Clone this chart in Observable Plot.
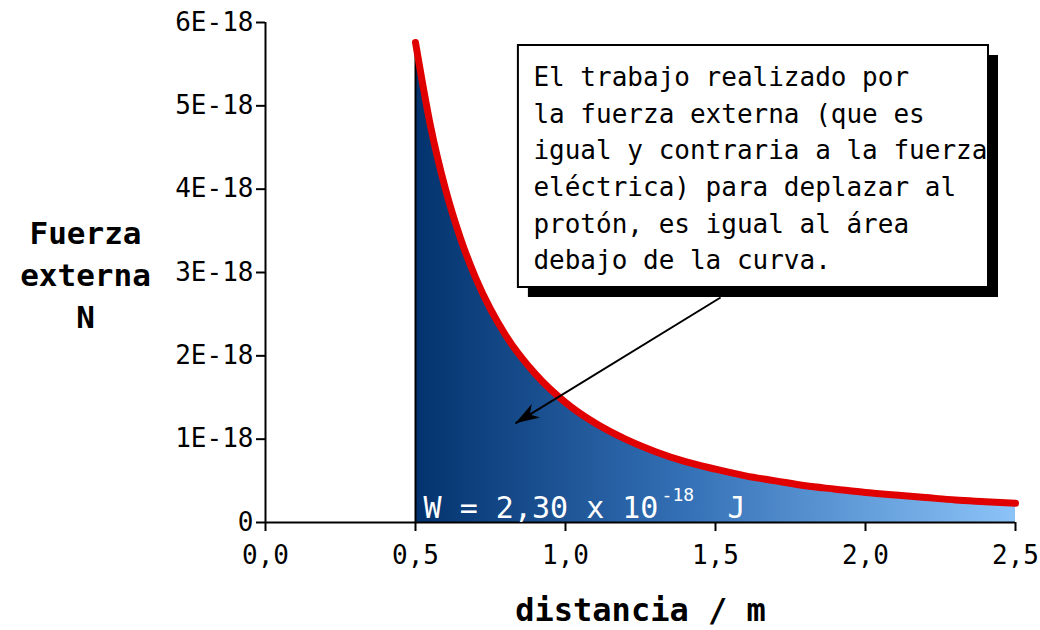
<!DOCTYPE html>
<html>
<head>
<meta charset="utf-8">
<script src="https://cdn.jsdelivr.net/npm/d3@7"></script>
<script src="https://cdn.jsdelivr.net/npm/@observablehq/plot@0.6"></script>
<style>
  html, body { margin: 0; padding: 0; background: #fff; }
  #chart svg { display: block; }
</style>
</head>
<body>
<div id="chart"></div>
<script>
// distance (m) and external force (in units of 1E-18 N)
const distancia = [0.5, 0.55, 0.6, 0.65, 0.7, 0.75, 0.8, 0.9, 1.0, 1.1, 1.2, 1.3, 1.4, 1.5, 1.6, 1.7, 1.8, 1.9, 2.0, 2.1, 2.2, 2.3, 2.4, 2.5];
const fuerza    = [5.76, 4.76, 4.00, 3.41, 2.94, 2.56, 2.25, 1.78, 1.44, 1.19, 1.00, 0.85, 0.73, 0.64, 0.56, 0.50, 0.44, 0.40, 0.36, 0.33, 0.30, 0.27, 0.25, 0.23];
const yTicks = [0, 1, 2, 3, 4, 5, 6];
const xTicks = [0, 0.5, 1.0, 1.5, 2.0, 2.5];
const noteText = "El trabajo realizado por\nla fuerza externa (que es\nigual y contraria a la fuerza\neléctrica) para deplazar al\nprotón, es igual al área\ndebajo de la curva.";
const workMain = "W = 2,30 x 10";
const workExp = "-18";
const workUnit = "J";
const yLabel = "Fuerza\nexterna\nN";
const xLabel = "distancia / m";

const data = distancia.map((d, i) => ({x: d, y: fuerza[i]}));
const note = [{x1: 0.843, x2: 2.41, y1: 2.82, y2: 5.724}];
const arrow = [{x1: 1.517, y1: 2.70, x2: 0.833, y2: 1.19}];

const gradient = () => {
  const defs = d3.create("svg:defs");
  const g = defs.append("linearGradient").attr("id", "areaGrad")
    .attr("x1", "0").attr("x2", "1").attr("y1", "0").attr("y2", "0");
  g.append("stop").attr("offset", "0").attr("stop-color", "#03336e");
  g.append("stop").attr("offset", "0.45").attr("stop-color", "#3470b6");
  g.append("stop").attr("offset", "1").attr("stop-color", "#8cc4f8");
  return defs.node();
};

const filledArrow = (color) => {
  const m = d3.create("svg:marker")
    .attr("viewBox", "-24 -10 26 20")
    .attr("markerWidth", 26).attr("markerHeight", 20)
    .attr("markerUnits", "userSpaceOnUse")
    .attr("refX", 0).attr("refY", 0)
    .attr("orient", "auto");
  m.append("path").attr("d", "M0,0L-24,-8L-17,0L-24,8Z").attr("fill", "black").attr("stroke", "none");
  return m.node();
};

const chart = Plot.plot({
  width: 1040,
  height: 630,
  marginLeft: 265,
  marginRight: 25,
  marginTop: 22,
  marginBottom: 108,
  style: {fontFamily: "DejaVu Sans Mono", fontSize: "26px", color: "black", background: "white", overflow: "visible"},
  x: {domain: [0, 2.5]},
  y: {domain: [0, 6]},
  marks: [
    gradient,
    Plot.areaY(data, {x: "x", y: "y", curve: "monotone-x", fill: "url(#areaGrad)"}),
    Plot.ruleX([0.5], {y1: 0, y2: fuerza[0], stroke: "black", strokeWidth: 2}),
    Plot.lineY(data, {x: "x", y: "y", curve: "monotone-x", stroke: "#e10000", strokeWidth: 7}),
    Plot.ruleY([0], {stroke: "black", strokeWidth: 2}),
    Plot.ruleX([0], {stroke: "black", strokeWidth: 2}),
    Plot.axisY({ticks: yTicks, tickSize: 9, tickPadding: 3, fontSize: 26, label: null,
      tickFormat: d => d === 0 ? "0" : `${d}E-18`, strokeWidth: 2}),
    Plot.axisX({ticks: xTicks, tickSize: 9, tickPadding: 14, fontSize: 26, label: null,
      tickFormat: d => d3.format(".1f")(d).replace(".", ","), strokeWidth: 2}),
    Plot.text([workMain], {x: 0.527, y: 0.17, text: d => d, textAnchor: "start", fill: "white", fontSize: 30}),
    Plot.text([workExp], {x: 0.527, y: 0.17, text: d => d, textAnchor: "start", fill: "white", fontSize: 18, dx: 238, dy: -13}),
    Plot.text([workUnit], {x: 0.527, y: 0.17, text: d => d, textAnchor: "start", fill: "white", fontSize: 30, dx: 304}),
    Plot.rect(note, {x1: "x1", x2: "x2", y1: "y1", y2: "y2", fill: "black", dx: 10, dy: 10}),
    Plot.rect(note, {x1: "x1", x2: "x2", y1: "y1", y2: "y2", fill: "white", stroke: "black", strokeWidth: 2}),
    Plot.text([noteText], {x: 0.893, y: 5.55, text: d => d, textAnchor: "start", lineAnchor: "top", lineHeight: 1.41, fontSize: 26}),
    Plot.link(arrow, {x1: "x1", y1: "y1", x2: "x2", y2: "y2", stroke: "black", strokeWidth: 2, markerEnd: filledArrow}),
    Plot.text([yLabel], {x: -0.6, y: 3.0, text: d => d, textAnchor: "middle", lineAnchor: "middle", lineHeight: 1.35, fontSize: 31, fontWeight: "bold"}),
    Plot.text([xLabel], {x: 1.25, y: -1.06, text: d => d, textAnchor: "middle", lineAnchor: "middle", fontSize: 32, fontWeight: "bold"})
  ]
});
document.getElementById("chart").appendChild(chart);
</script>
</body>
</html>
